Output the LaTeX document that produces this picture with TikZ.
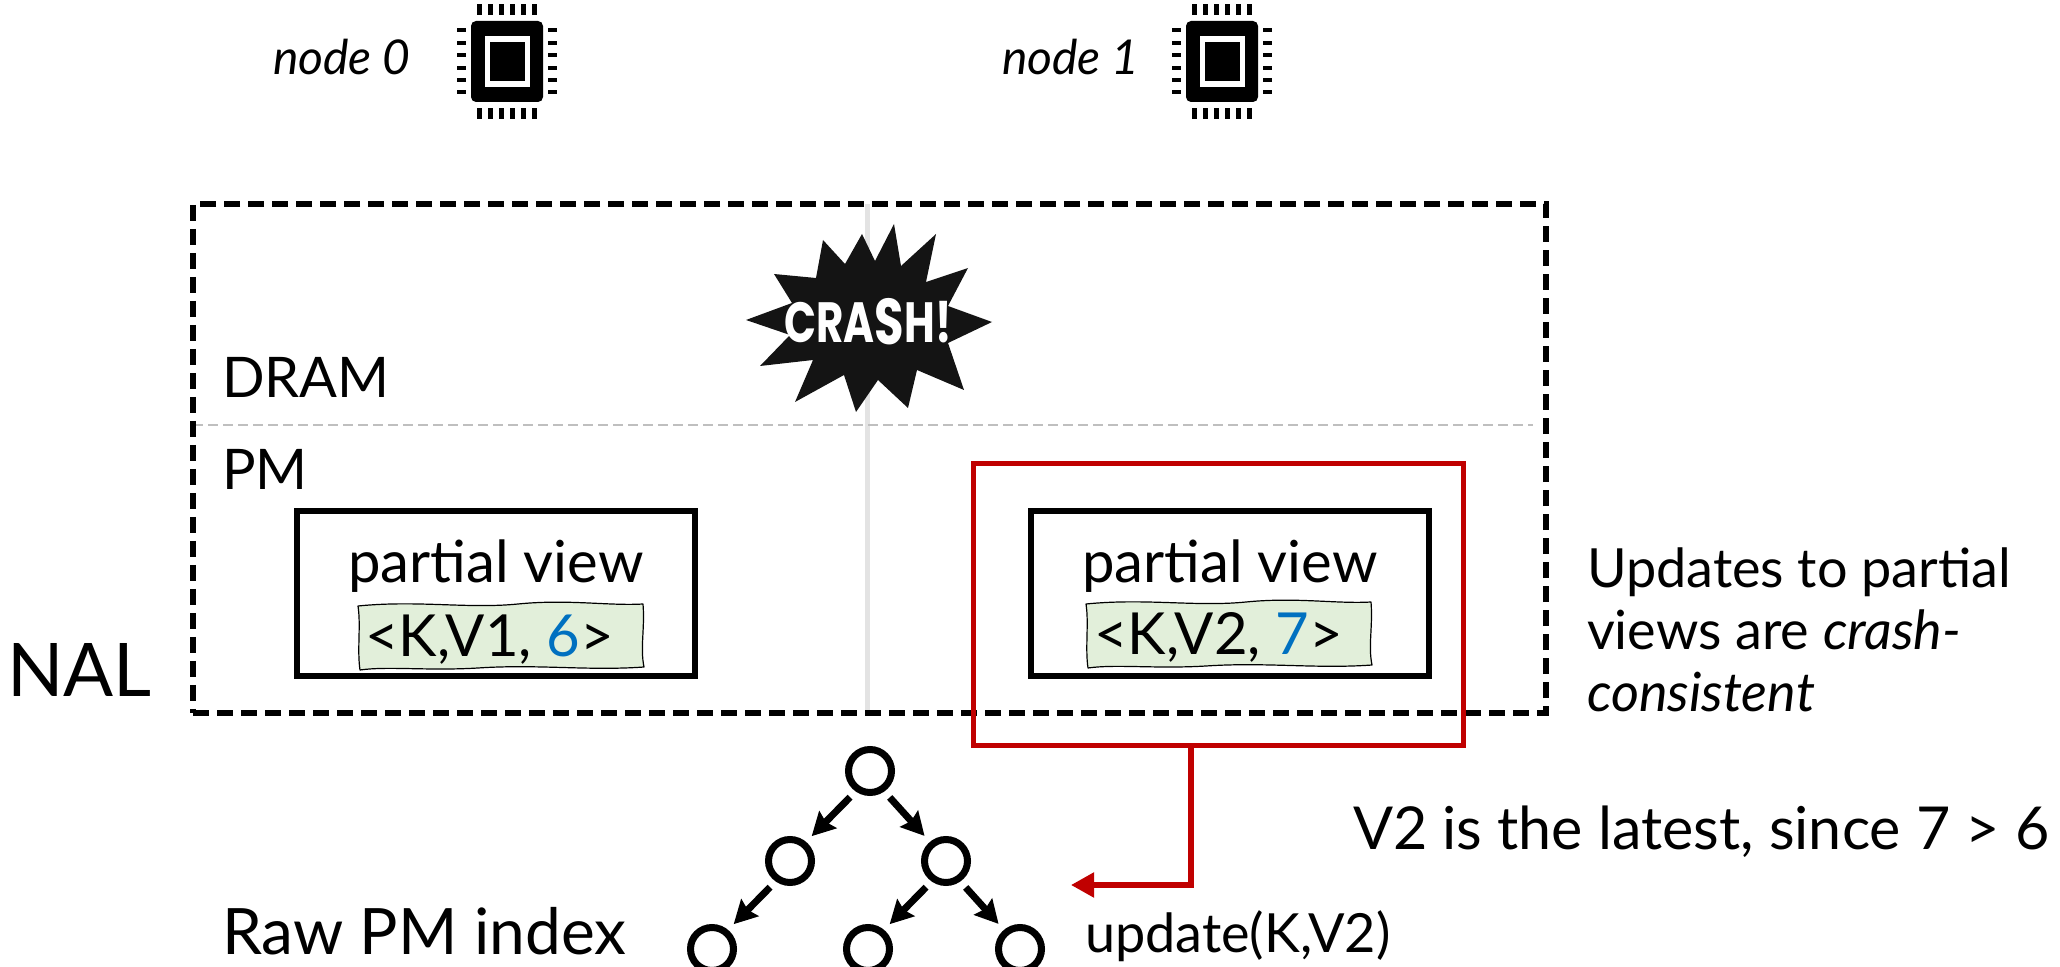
\documentclass[tikz,border=0pt]{standalone}
\usepackage{fontspec}
\setmainfont{Lato}
\newfontfamily\crashfont{Poppins}
\usetikzlibrary{arrows.meta}

\definecolor{pmred}{HTML}{C00000}
\definecolor{seqblue}{HTML}{0070C0}
\definecolor{tagfill}{HTML}{E2EFDA}
\definecolor{splitgray}{HTML}{BFBFBF}
\definecolor{colgray}{HTML}{E3E3E3}

\newcommand\txtsz[1]{\fontsize{#1}{#1}\selectfont}

\tikzset{
  lbl/.style={inner sep=0pt, outer sep=0pt, anchor=base west},
  region/.style={draw, line width=2.6pt, dash pattern=on 8pt off 4pt,
                 minimum width=676.5pt, minimum height=254.5pt, inner sep=0pt},
  viewbox/.style={draw, line width=3pt, minimum width=199pt, minimum height=82.5pt, inner sep=0pt},
  focusbox/.style={draw=pmred, line width=2.6pt, minimum width=245pt, minimum height=141pt, inner sep=0pt},
  treenode/.style={circle, draw, line width=3.5pt, minimum size=21.5pt, inner sep=0pt},
  treearrow/.style={line width=3.5pt, shorten <=4pt, shorten >=4pt,
                    -{Stealth[length=11.5pt,width=12pt,inset=1.5pt]}},
  redarrow/.style={draw=pmred, line width=2.6pt, -{Triangle[length=11.5pt,width=12pt,fill=pmred]}},
  crashtext/.style={inner sep=0pt, text=white, font=\crashfont\bfseries\txtsz{21pt}},
  pics/chip/.style={code={
    \fill[rounded corners=2.5pt] (-36,-40.5) rectangle (36,40.5);
    \fill[white] (-22.5,-25.5) rectangle (22.5,25.5);
    \fill (-17.5,-19.5) rectangle (17.5,20);
    \foreach \p in {-27.5,-16.5,-5.5,5.5,16.5,27.5} {
      \fill (\p-2.3,-57.5) rectangle (\p+2.3,-46.5);
      \fill (\p-2.3,46.5) rectangle (\p+2.3,57.5);
    }
    \foreach \q in {-31,-18.6,-6.2,6.2,18.6,31} {
      \fill (-50,\q-2) rectangle (-41,\q+2);
      \fill (41,\q-2) rectangle (50,\q+2);
    }
  }},
  pics/wavytag/.style={code={
    \draw[fill=tagfill, line width=0.6pt, line join=round]
      (0,3) .. controls (60,-3) and (110,6) .. (160,1)
      .. controls (210,-4) and (250,3) .. (285,1)
      .. controls (287,25) and (282,45) .. (286,64)
      .. controls (230,68) and (180,61) .. (120,65)
      .. controls (70,68) and (30,63) .. (2,67)
      .. controls (-1,47) and (3,22) .. cycle;
  }}
}

\begin{document}
\begin{tikzpicture}[x=0.5pt, y=-0.5pt]
\useasboundingbox (0,0) rectangle (2060,967);

% compute nodes with their chip icons
\node[lbl, font=\txtsz{24pt}\itshape] (n0lbl) at (273,75) {node 0};
\pic at (507,61.5) {chip};
\node[lbl, font=\txtsz{24pt}\itshape] (n1lbl) at (1002,75) {node 1};
\pic at (1222,61.5) {chip};

% column divider and DRAM / PM split
\draw[colgray, line width=2.5pt] (867,204) -- (867,716);
\draw[splitgray, line width=1pt, dash pattern=on 5pt off 2.5pt] (193,425) -- (1533,425);

% NAL region
\node[region] (nal) at (869.5,458.5) {};
\node[lbl, font=\txtsz{37pt}] (nallbl) at (7,696) {NAL};
\node[lbl, font=\txtsz{28pt}] (dram) at (222,398) {DRAM};
\node[lbl, font=\txtsz{28pt}] (pm) at (222,490) {PM};

% crash burst with its lettering
\begin{scope}[shift={(870,318)}]
  \fill[black!92] (122,4) -- (78,-12) -- (98,-50) -- (56,-36) -- (66,-84) -- (31,-52)
    -- (24,-94) -- (5,-57) -- (-8,-84) -- (-25,-54) -- (-47,-78) -- (-54,-40)
    -- (-96,-44) -- (-78,-15) -- (-124,2) -- (-80,17) -- (-110,48) -- (-57,42)
    -- (-75,84) -- (-26,57) -- (-14,94) -- (8,62) -- (38,90) -- (47,52)
    -- (94,72) -- (78,25) -- cycle;
\end{scope}
\node[crashtext] (crash) at (868,322)
  {\scalebox{1}[1.35]{CRA\raisebox{-1pt}{\txtsz{24pt}S}H!}};

% partial views
\node[viewbox] (pv0) at (496,593.5) {};
\node[anchor=base, inner sep=0pt, font=\txtsz{29pt}] (pv0lbl) at (496,582) {partial view};
\pic at (358,603) {wavytag};
\node[lbl, font=\txtsz{29pt}] (kv0) at (365,656) {<K,V1, \textcolor{seqblue}{6}>};

\node[viewbox] (pv1) at (1229.5,593.5) {};
\node[anchor=base, inner sep=0pt, font=\txtsz{29pt}] (pv1lbl) at (1230,582) {partial view};
\pic at (1086,601) {wavytag};
\node[lbl, font=\txtsz{29pt}] (kv1) at (1094,654) {<K,V2, \textcolor{seqblue}{7}>};

% highlighted view and its update
\node[focusbox] (focus) at (1218.5,604.5) {};
\coordinate (upd) at (1071,885);
\draw[redarrow] ([xshift=110pt]focus.south west) |- (upd);

% raw PM index tree
\node[treenode] (root) at (870,771) {};
\node[treenode] (ml) at (790,861) {};
\node[treenode] (mr) at (946,861) {};
\node[treenode] (ll) at (712,949) {};
\node[treenode] (lm) at (868,949) {};
\node[treenode] (lr) at (1020,949) {};
\draw[treearrow] (root.-125) -- (ml.50);
\draw[treearrow] (root.-55) -- (mr.130);
\draw[treearrow] (ml.-125) -- (ll.50);
\draw[treearrow] (mr.-125) -- (lm.50);
\draw[treearrow] (mr.-55) -- (lr.130);

\node[lbl, font=\txtsz{32pt}] (rawidx) at (222,954) {Raw PM index};
\node[lbl, font=\txtsz{27pt}] (updlbl) at (1085,952) {update(K,V2)};

% side notes
\node[lbl, font=\txtsz{27pt}] (note1) at (1587,587) {Updates to partial};
\node[lbl, font=\txtsz{27pt}] (note2) at (1587,649) {views are \textit{crash-}};
\node[lbl, font=\txtsz{27pt}] (note3) at (1587,711) {\textit{consistent}};
\node[lbl, font=\txtsz{29.6pt}] (latest) at (1353,849) {V2 is the latest, since 7 > 6};
\end{tikzpicture}
\end{document}
